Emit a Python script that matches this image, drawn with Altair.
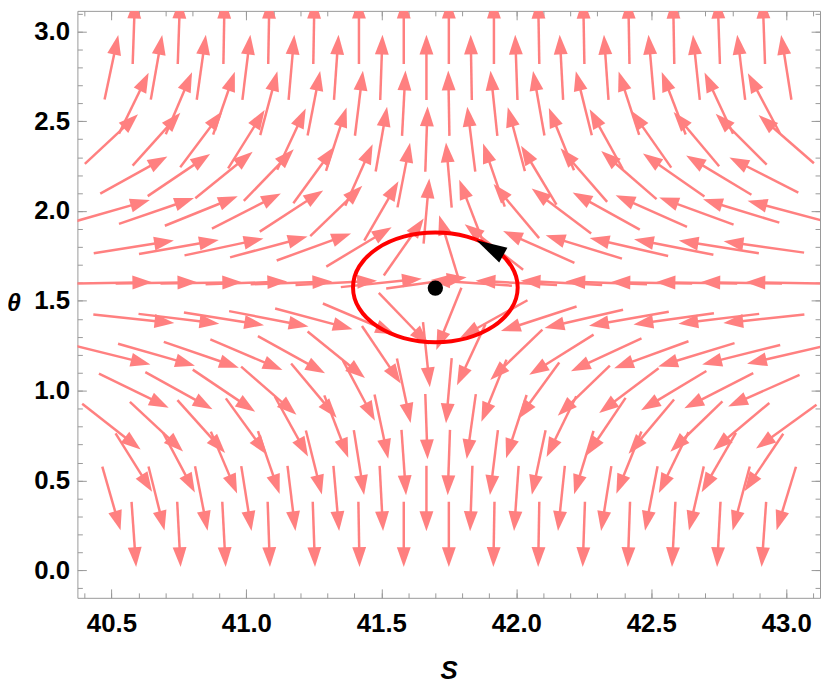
import altair as alt
import numpy as np
import pandas as pd

# ---------------- data ----------------
THETA_ROWS = [0.2, 0.4, 0.6, 0.8, 1.0, 1.2, 1.4, 1.6, 1.8, 2.0, 2.2, 2.4, 2.6, 2.8, 3.0]
S_ODD = [40.583, 40.75, 40.917, 41.083, 41.25, 41.417, 41.583, 41.75, 41.917,
         42.083, 42.25, 42.417, 42.583, 42.75, 42.917]
S_EVEN = [40.5, 40.667, 40.833, 41.0, 41.167, 41.333, 41.5, 41.667, 41.833,
          42.0, 42.167, 42.333, 42.5, 42.667, 42.833, 43.0]

# arrow directions on screen (degrees, counter-clockwise from +S)
ANG_0_2 = [-86, -87, -87, -88, -88, -89, -90, -90, -91, -91, -92, -92, -93, -93, -94]
ANG_0_4 = [-74, -76, -79, -81, -83, -85, -87, -90, -92, -94, -96, -99, -101, -103, -105, -107]
ANG_0_6 = [-58, -62, -67, -71, -76, -81, -86, -92, -97, -102, -107, -112, -116, -120, -124]
ANG_0_8 = [-38, -43, -48, -54, -61, -69, -78, -88, -98, -108, -116, -124, -130, -136, -140, -144]
ANG_1_0 = [-26, -29, -34, -41, -50, -62, -78, -95, -112, -126, -136, -143, -149, -153, -156]
ANG_1_2 = [-14, -16, -19, -23, -29, -39, -56, -84, -115, -136, -148, -155, -160, -163, -166, -167]
ANG_1_4 = [-6, -7, -9, -11, -15, -23, -46, -112, -151, -162, -167, -170, -172, -173, -174]
ANG_1_6 = [1, 1, 1, 2, 2, 3, 6, 8, 176, 177, 177, 178, 179, 179, 179, 179]
ANG_1_8 = [9, 10, 12, 15, 20, 31, 55, 107, 142, 156, 163, 167, 169, 171, 172]
ANG_2_0 = [16, 19, 22, 27, 33, 44, 60, 85, 111, 130, 143, 151, 156, 160, 163, 165]
ANG_2_2 = [29, 34, 39, 46, 54, 66, 79, 95, 109, 121, 131, 139, 145, 149, 153]
ANG_2_4 = [43, 48, 53, 58, 65, 72, 80, 88, 97, 105, 112, 119, 125, 130, 135, 139]
ANG_2_6 = [64, 67, 71, 75, 79, 83, 87, 91, 96, 100, 104, 108, 111, 115, 118]
ANG_2_8 = [78, 80, 82, 83, 85, 86, 88, 90, 91, 92, 93, 94, 95, 96, 97, 99]
ANG_3_0 = [88, 88, 89, 89, 89, 90, 90, 90, 90, 91, 91, 91, 91, 92, 92]
ANGLES = [ANG_0_2, ANG_0_4, ANG_0_6, ANG_0_8, ANG_1_0, ANG_1_2, ANG_1_4, ANG_1_6,
          ANG_1_8, ANG_2_0, ANG_2_2, ANG_2_4, ANG_2_6, ANG_2_8, ANG_3_0]

# closed orbit (red curve) read around its outline
ORBIT_S = [42.005, 41.982, 41.916, 41.817, 41.700, 41.583, 41.484, 41.418,
           41.395, 41.418, 41.484, 41.583, 41.700, 41.817, 41.916, 41.982]
ORBIT_T = [1.575, 1.692, 1.791, 1.857, 1.880, 1.857, 1.791, 1.692,
           1.575, 1.458, 1.359, 1.293, 1.270, 1.293, 1.359, 1.458]

FIXED_S = [41.70]
FIXED_T = [1.571]
DIR_S = [41.902]
DIR_T = [1.796]
DIR_ANGLE = [151]

X_MAJOR = [40.5, 41.0, 41.5, 42.0, 42.5, 43.0]
X_MINOR = [40.4, 40.5, 40.6, 40.7, 40.8, 40.9, 41.0, 41.1, 41.2, 41.3, 41.4, 41.5, 41.6, 41.7,
           41.8, 41.9, 42.0, 42.1, 42.2, 42.3, 42.4, 42.5, 42.6, 42.7, 42.8, 42.9, 43.0, 43.1]
Y_MAJOR = [0.0, 0.5, 1.0, 1.5, 2.0, 2.5, 3.0]
Y_MINOR = [-0.1, 0.0, 0.1, 0.2, 0.3, 0.4, 0.5, 0.6, 0.7, 0.8, 0.9, 1.0, 1.1, 1.2, 1.3, 1.4, 1.5,
           1.6, 1.7, 1.8, 1.9, 2.0, 2.1, 2.2, 2.3, 2.4, 2.5, 2.6, 2.7, 2.8, 2.9, 3.0, 3.1]

# ---------------- styling / layout ----------------
W, H = 749, 592
XDOM = [40.374, 43.125]
YDOM = [-0.153, 3.114]
PINK = "#ff8080"
GRAY = "#999999"
FONT = "Liberation Sans"
LN = 0.11          # arrow length in plot-normalised units
REF_W, REF_H = 749, 599
HEAD_LEN = 20
HEAD_PATH = "M0,-1L0.7,1L-0.7,1Z"
BLACK_PATH = "M0,-1L0.55,1L-0.55,1Z"

PXX = W / (XDOM[1] - XDOM[0])
PXY = H / (YDOM[1] - YDOM[0])

recs = []
for th, angs in zip(THETA_ROWS, ANGLES):
    cols = S_ODD if len(angs) == len(S_ODD) else S_EVEN
    for s, a in zip(cols, angs):
        r = np.radians(a)
        c, sn = np.cos(r), np.sin(r)
        L = LN / np.hypot(c / REF_W, sn / REF_H)

        def pt(d):
            return s + d * c / PXX, th + d * sn / PXY

        x0, y0 = pt(-L / 2)
        x1, y1 = pt(L / 2 - 0.8 * HEAD_LEN)
        hx, hy = pt(L / 2 - HEAD_LEN / 2)
        recs.append(dict(x0=x0, y0=y0, x1=x1, y1=y1, hx=hx, hy=hy, rot=(90 - a) % 360))
arrows = pd.DataFrame(recs)

orbit_df = pd.DataFrame({"S": ORBIT_S, "T": ORBIT_T, "i": list(range(len(ORBIT_S)))})
fp_df = pd.DataFrame({"S": FIXED_S, "T": FIXED_T})
dir_df = pd.DataFrame({"S": DIR_S, "T": DIR_T, "rot": [(90 - a) % 360 for a in DIR_ANGLE]})

xs = alt.Scale(domain=XDOM, nice=False, zero=False)
ys = alt.Scale(domain=YDOM, nice=False, zero=False)


def tick_axis(orient, offset, values, size):
    return alt.Axis(orient=orient, offset=offset, values=values, tickSize=size,
                    tickColor=GRAY, tickWidth=1, labels=False, domain=False,
                    grid=False, title=None)


AX_X_LABELS = alt.Axis(orient="bottom", values=X_MAJOR, format=".1f", ticks=False, tickSize=0,
                       labelFont=FONT, labelFontSize=26, labelFontWeight="bold",
                       labelColor="black", labelPadding=13, labelFlush=False,
                       labelOverlap=False, domain=False, grid=False,
                       title="S", titleFont=FONT, titleFontSize=26, titleFontWeight="bold",
                       titleFontStyle="italic", titleColor="black", titleX=W / 2, titleY=81,
                       titleAlign="center", titleBaseline="alphabetic")
AX_Y_LABELS = alt.Axis(orient="left", values=Y_MAJOR, format=".1f", ticks=False, tickSize=0,
                       labelFont=FONT, labelFontSize=26, labelFontWeight="bold",
                       labelColor="black", labelPadding=8, labelFlush=False,
                       labelOverlap=False, domain=False, grid=False,
                       title="θ", titleFont=FONT, titleFontSize=25, titleFontWeight="bold",
                       titleFontStyle="italic", titleColor="black", titleAngle=0,
                       titleX=-64.5, titleY=293.7, titleAlign="center",
                       titleBaseline="middle")

shafts = alt.Chart(arrows).mark_rule(color=PINK, strokeWidth=2.5, clip=True).encode(
    x=alt.X("x0:Q", scale=xs, axis=AX_X_LABELS),
    y=alt.Y("y0:Q", scale=ys, axis=AX_Y_LABELS),
    x2="x1:Q", y2="y1:Q")

heads = alt.Chart(arrows).mark_point(shape=HEAD_PATH, size=HEAD_LEN ** 2, filled=True,
                                     color=PINK, opacity=1, clip=True).encode(
    x=alt.X("hx:Q", scale=xs, axis=tick_axis("top", -H, X_MAJOR, 9)),
    y=alt.Y("hy:Q", scale=ys, axis=tick_axis("right", -W, Y_MAJOR, 9)),
    angle=alt.Angle("rot:Q", scale=None))

orbit = alt.Chart(orbit_df).mark_line(color="#ff0000", strokeWidth=4,
                                      interpolate="cardinal-closed").encode(
    x=alt.X("S:Q", scale=xs, axis=tick_axis("top", -H, X_MINOR, 5)),
    y=alt.Y("T:Q", scale=ys, axis=tick_axis("right", -W, Y_MINOR, 5)),
    order="i:Q")

dot = alt.Chart(fp_df).mark_circle(size=240, color="black", opacity=1).encode(
    x=alt.X("S:Q", scale=xs, axis=tick_axis("bottom", -H, X_MAJOR, 9)),
    y=alt.Y("T:Q", scale=ys, axis=tick_axis("left", -W, Y_MAJOR, 9)))

dirhead = alt.Chart(dir_df).mark_point(shape=BLACK_PATH, size=961, filled=True,
                                       color="black", opacity=1).encode(
    x=alt.X("S:Q", scale=xs, axis=tick_axis("bottom", -H, X_MINOR, 5)),
    y=alt.Y("T:Q", scale=ys, axis=tick_axis("left", -W, Y_MINOR, 5)),
    angle=alt.Angle("rot:Q", scale=None))

chart = alt.layer(shafts, heads, orbit, dot, dirhead).resolve_axis(
    x="independent", y="independent"
).properties(
    width=W, height=H,
    autosize=alt.AutoSizeParams(type="none"),
    padding={"left": 70, "top": 0, "right": 2, "bottom": 83},
).configure_view(stroke=GRAY, strokeWidth=1)

chart.save("out.html", embed_options={"renderer": "svg", "actions": False})
